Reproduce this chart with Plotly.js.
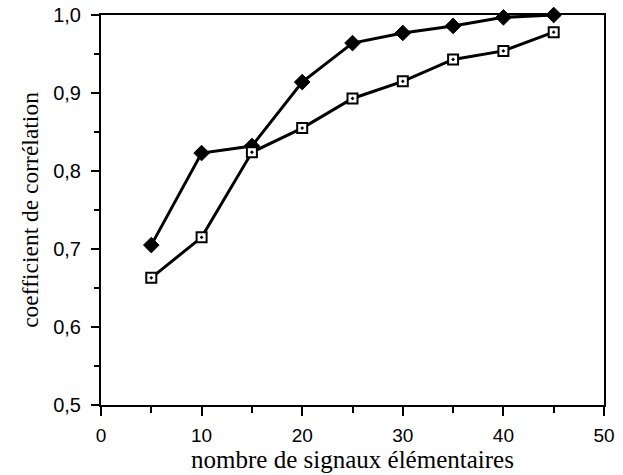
<!DOCTYPE html>
<html>
<head>
<meta charset="utf-8">
<script src="https://cdn.plot.ly/plotly-3.0.1.min.js"></script>
<style>html,body{margin:0;padding:0;background:#fff;}#chart{width:623px;height:475px;}</style>
</head>
<body>
<div id="chart"></div>
<script>
var nbSignaux = [5, 10, 15, 20, 25, 30, 35, 40, 45];
var serieLosanges = [0.705, 0.823, 0.832, 0.914, 0.964, 0.977, 0.986, 0.997, 1.0];
var serieCarres = [0.663, 0.715, 0.824, 0.855, 0.893, 0.915, 0.943, 0.954, 0.978];
var xTickVals = [0, 10, 20, 30, 40, 50];
var xTickText = ["0", "10", "20", "30", "40", "50"];
var yTickVals = [0.5, 0.6, 0.7, 0.8, 0.9, 1.0];
var yTickText = ["0,5", "0,6", "0,7", "0,8", "0,9", "1,0"];

var traces = [
  {
    x: nbSignaux, y: serieLosanges, type: 'scatter', mode: 'lines+markers',
    line: {color: '#000', width: 3},
    marker: {symbol: 'diamond', size: 12, color: '#000', line: {color: '#000', width: 1}},
    showlegend: false, cliponaxis: false
  },
  {
    x: nbSignaux, y: serieCarres, type: 'scatter', mode: 'lines+markers',
    line: {color: '#000', width: 3},
    marker: {symbol: 'square-dot', size: 10, color: '#fff', line: {color: '#000', width: 2}},
    showlegend: false, cliponaxis: false
  }
];

var layout = {
  width: 623, height: 475,
  margin: {l: 101, r: 19, t: 15, b: 70, pad: 0},
  paper_bgcolor: '#fff', plot_bgcolor: '#fff',
  font: {family: 'Liberation Sans, Arial, sans-serif', color: '#000'},
  xaxis: {
    range: [0, 50], tickmode: 'array', tickvals: xTickVals, ticktext: xTickText,
    ticks: 'outside', ticklen: 9, tickwidth: 2, tickcolor: '#000',
    minor: {dtick: 5, tick0: 0, ticks: 'outside', ticklen: 6, tickwidth: 2, tickcolor: '#000'},
    showline: true, linecolor: '#000', linewidth: 2, mirror: true,
    showgrid: false, zeroline: false,
    tickfont: {size: 19, family: 'Liberation Sans, Arial, sans-serif'},
    ticklabelstandoff: 3,
    title: {text: 'nombre de signaux élémentaires', font: {size: 25, family: 'Liberation Serif, Times New Roman, serif'}, standoff: 1}
  },
  yaxis: {
    range: [0.5, 1.0], tickmode: 'array', tickvals: yTickVals, ticktext: yTickText,
    ticks: 'outside', ticklen: 8, tickwidth: 2, tickcolor: '#000',
    minor: {dtick: 0.05, tick0: 0.5, ticks: 'outside', ticklen: 5, tickwidth: 2, tickcolor: '#000'},
    showline: true, linecolor: '#000', linewidth: 2, mirror: true,
    showgrid: false, zeroline: false,
    tickfont: {size: 20, family: 'Liberation Sans, Arial, sans-serif'},
    ticklabelstandoff: 6,
    title: {text: 'coefficient de corrélation', font: {size: 23.5, family: 'Liberation Serif, Times New Roman, serif'}, standoff: 8}
  }
};

Plotly.newPlot('chart', traces, layout, {displayModeBar: false, staticPlot: true});
</script>
</body>
</html>
